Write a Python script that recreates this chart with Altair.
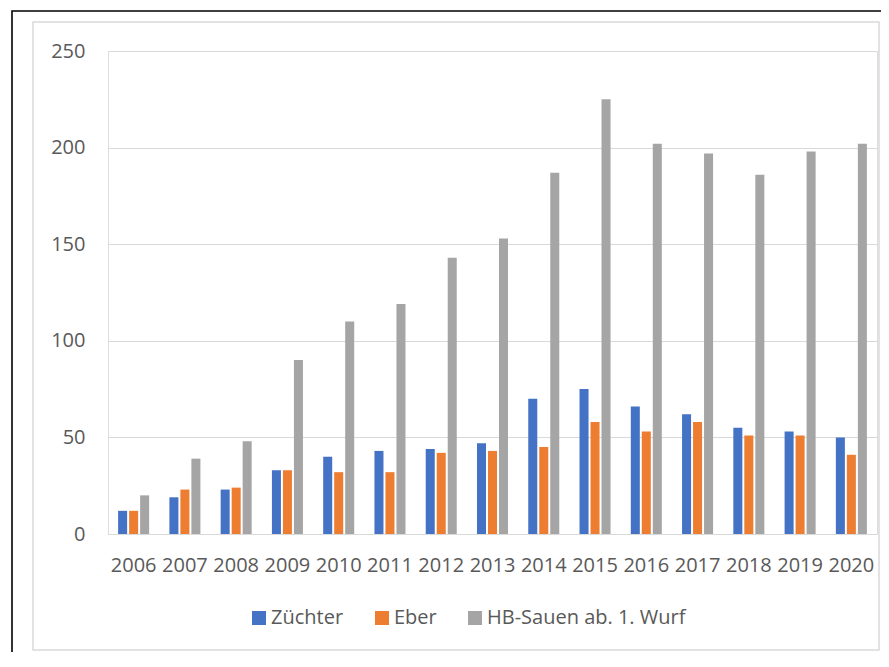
import altair as alt
import pandas as pd

years = ["2006", "2007", "2008", "2009", "2010", "2011", "2012", "2013",
         "2014", "2015", "2016", "2017", "2018", "2019", "2020"]
zuechter = [12, 19, 23, 33, 40, 43, 44, 47, 70, 75, 66, 62, 55, 53, 50]
eber = [12, 23, 24, 33, 32, 32, 42, 43, 45, 58, 53, 58, 51, 51, 41]
hb_sauen = [20, 39, 48, 90, 110, 119, 143, 153, 187, 225, 202, 197, 186, 198, 202]
series = ["Züchter", "Eber", "HB-Sauen ab. 1. Wurf"]
colors = ["#4472C4", "#ED7D31", "#A5A5A5"]
y_ticks = [0, 50, 100, 150, 200, 250]

rows = []
for i, yr in enumerate(years):
    for s, vals in zip(series, [zuechter, eber, hb_sauen]):
        rows.append({"Jahr": yr, "Serie": s, "Wert": vals[i]})
df = pd.DataFrame(rows)

W, H = 769, 483
TXT = "#595959"

bars = alt.Chart(df).mark_bar().encode(
    x=alt.X("Jahr:N", sort=years,
            scale=alt.Scale(paddingInner=0.395, paddingOuter=0.1975),
            axis=alt.Axis(title=None, labelAngle=0, ticks=False, domain=False,
                          labelPadding=21, labelFontSize=20, labelColor=TXT,
                          grid=False)),
    xOffset=alt.XOffset("Serie:N", sort=series,
                        scale=alt.Scale(paddingInner=0.18, paddingOuter=0)),
    y=alt.Y("Wert:Q", scale=alt.Scale(domain=[0, 250], nice=False),
            axis=alt.Axis(title=None, values=y_ticks, ticks=False, domain=False,
                          labelPadding=23, labelFontSize=20, labelColor=TXT,
                          grid=True, gridColor="#d9d9d9", gridWidth=1.2)),
    color=alt.Color("Serie:N", sort=series,
                    scale=alt.Scale(domain=series, range=colors),
                    legend=alt.Legend(title=None, orient="none", legendX=141,
                                      legendY=557, direction="horizontal",
                                      symbolType="square", symbolSize=196,
                                      symbolStrokeWidth=0, labelLimit=400,
                                      labelFontSize=20, labelColor=TXT,
                                      columnPadding=28, labelOffset=2,
                                      padding=0)),
)

frame_df = pd.DataFrame({"k": [0]})
gray_frame = alt.Chart(frame_df).mark_rect(
    filled=False, stroke="#d9d9d9", strokeWidth=1.5
).encode(x=alt.value(-75), x2=alt.value(771), y=alt.value(-29), y2=alt.value(599))
black_frame = alt.Chart(frame_df).mark_rect(
    filled=False, stroke="#000000", strokeWidth=1.6
).encode(x=alt.value(-96), x2=alt.value(820), y=alt.value(-40), y2=alt.value(660))

chart = alt.layer(black_frame, gray_frame, bars).properties(
    width=W, height=H,
    padding={"left": 100, "top": 43, "right": 4, "bottom": 118},
    autosize=alt.AutoSizeParams(type="none"),
).configure_view(stroke=None).configure(font="Open Sans")

chart.save("out.html", embed_options={"renderer": "svg", "actions": False})
